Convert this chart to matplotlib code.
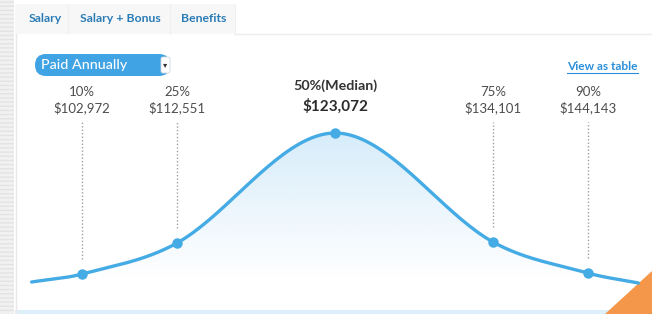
import numpy as np
import matplotlib.pyplot as plt
from matplotlib.patches import Rectangle, FancyBboxPatch, Polygon

plt.rcParams['font.family'] = ['Lato', 'DejaVu Sans']

# Data: salary percentiles
percentiles = [10, 25, 50, 75, 90]
pct_labels = ["10%", "25%", "50%(Median)", "75%", "90%"]
salaries = [102972, 112551, 123072, 134101, 144143]
# curve heights at the percentile points, plus the two curve ends
curve_x = [2, 10, 25, 50, 75, 90, 98]
curve_h = [28, 36, 67, 177, 68, 37, 27]
tabs = ["Salary", "Salary + Bonus", "Benefits"]

BLUE = "#45abe4"


def smooth(xs, ys, n=40):
    # cubic hermite through the points, tangents from neighbours
    xs = np.asarray(xs, float)
    ys = np.asarray(ys, float)
    m = np.zeros_like(ys)
    m[1:-1] = (ys[2:] - ys[:-2]) / (xs[2:] - xs[:-2])
    m[0] = (ys[1] - ys[0]) / (xs[1] - xs[0])
    m[-1] = (ys[-1] - ys[-2]) / (xs[-1] - xs[-2])
    ox, oy = [], []
    for i in range(len(xs) - 1):
        h = xs[i + 1] - xs[i]
        t = np.linspace(0, 1, n, endpoint=False)
        h00 = 2 * t**3 - 3 * t**2 + 1
        h10 = t**3 - 2 * t**2 + t
        h01 = -2 * t**3 + 3 * t**2
        h11 = t**3 - t**2
        ox.append(xs[i] + t * h)
        oy.append(h00 * ys[i] + h10 * h * m[i] + h01 * ys[i + 1] + h11 * h * m[i + 1])
    ox.append([xs[-1]])
    oy.append([ys[-1]])
    return np.concatenate(ox), np.concatenate(oy)


fig = plt.figure(figsize=(6.52, 3.14), dpi=100)

# background / page chrome in pixel coordinates
bg = fig.add_axes([0, 0, 1, 1])
bg.set_xlim(0, 652)
bg.set_ylim(314, 0)
bg.axis("off")

bg.add_patch(Rectangle((0, 0), 14, 314, facecolor="#f1f1f1", edgecolor="#e3e3e3",
                       hatch="----", linewidth=0))
bg.add_patch(Rectangle((15, 4), 220, 30, facecolor="#f7f7f7", edgecolor="none"))
for sx in [68, 170, 235]:
    bg.plot([sx, sx], [4, 34], color="#f0f0f0", lw=0.8)
bg.plot([235, 652], [34, 34], color="#ececec", lw=1)
bg.plot([15.5, 15.5], [34, 314], color="#e9e9e9", lw=1)
bg.add_patch(Rectangle((15, 310), 637, 4, facecolor="#dceffb", edgecolor="none"))

for label, cx in zip(tabs, [45, 120, 204]):
    bg.text(cx, 19, label, color="#2b7cb6", fontsize=8.8, fontweight="bold",
            ha="center", va="center")

bg.add_patch(FancyBboxPatch((35, 54), 135, 22, boxstyle="round,pad=0,rounding_size=11",
                            facecolor="#3fa3e4", edgecolor="none"))
bg.add_patch(FancyBboxPatch((161, 57), 9, 16, boxstyle="round,pad=0,rounding_size=2",
                            facecolor="white", edgecolor="#cfd8de", lw=0.6))
bg.text(165.5, 65, "▾", color="#333333", fontsize=6, ha="center", va="center",
        family="DejaVu Sans")
bg.text(41, 65, "Paid Annually", color="white", fontsize=10.3, fontweight="medium",
        ha="left", va="center")

bg.text(638, 66, "View as table", color="#2a8fd8", fontsize=8.6, fontweight="bold",
        ha="right", va="center")
bg.plot([567, 638], [72.5, 72.5], color="#2a8fd8", lw=0.8)

bg.add_patch(Polygon([(605, 314), (652, 314), (652, 271)], closed=True,
                     facecolor="#f4974a", edgecolor="none", zorder=10))

# chart
ax = fig.add_axes([19 / 652, 4 / 314, 632 / 652, 200 / 314])
ax.set_xlim(0, 100)
ax.set_ylim(0, 200)
ax.axis("off")
ax.patch.set_alpha(0)

sx, sy = smooth(curve_x, curve_h)

# gradient fill below the curve
grad = np.zeros((200, 2, 4))
rgb = np.array([90, 178, 234]) / 255
alpha = np.clip((np.linspace(0, 200, 200) - 30) / 150, 0, 1) * 0.25
grad[..., :3] = rgb
grad[..., 3] = alpha[:, None]
poly = ax.fill_between(sx, 0, sy, facecolor="none", edgecolor="none")
img = ax.imshow(grad, extent=[0, 100, 0, 200], origin="lower", aspect="auto",
                interpolation="bilinear", zorder=1)
img.set_clip_path(poly.get_paths()[0], transform=ax.transData)

ax.plot(sx, sy, color=BLUE, lw=2.4, zorder=3, solid_capstyle="round")

pt_h = curve_h[1:-1]
ax.plot(percentiles, pt_h, "o", color=BLUE, markersize=6.5, zorder=4)

for p, h, lab, sal in zip(percentiles, pt_h, pct_labels, salaries):
    money = "${:,}".format(sal)
    if p == 50:
        ax.text(p, 224, lab, ha="center", va="center", fontsize=10.3, fontweight="bold",
                color="#333333", clip_on=False)
        ax.text(p, 204, money, ha="center", va="center", fontsize=11, fontweight="bold",
                color="#2b2b2b", clip_on=False)
    else:
        ax.plot([p, p], [h + 15, 188], color="#a0a0a0", lw=1, ls=(0, (1, 1.5)), zorder=2)
        ax.text(p, 218, lab, ha="center", va="center", fontsize=9.5, color="#4d4d4d",
                clip_on=False)
        ax.text(p, 202, money, ha="center", va="center", fontsize=9.5, color="#4d4d4d",
                clip_on=False)

fig.savefig("out.png", dpi=100)
